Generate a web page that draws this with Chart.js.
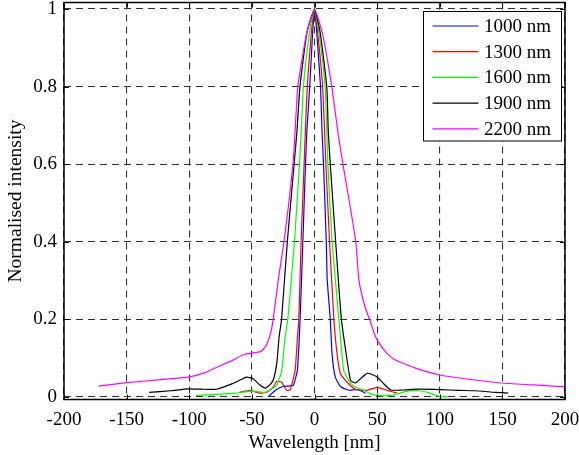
<!DOCTYPE html>
<html>
<head>
<meta charset="utf-8">
<script src="https://cdn.jsdelivr.net/npm/chart.js@4"></script>
<style>
  body { margin: 0; background: #fff; }
</style>
</head>
<body>
<canvas id="myChart" width="579" height="455"></canvas>
<script>

// values (x = wavelength offset in nm, y = normalised intensity)
var wl1000 = [-37, -33, -30, -25, -21, -17, -15, -13.6, -11.5, -9.3, -7.2, -6.1, -3.8, -1.5, 0, 1.8, 4.8, 6.0, 7.2, 9.4, 10.2, 12.6, 14, 16.6, 20.7, 25, 28.7, 32, 35.4, 40.8];
var in1000 = [0.001, 0.012, 0.02, 0.027, 0.028, 0.03, 0.05, 0.07, 0.2, 0.4, 0.6, 0.685, 0.8, 0.94, 1.0, 0.94, 0.8, 0.685, 0.6, 0.4, 0.3, 0.2, 0.111, 0.051, 0.027, 0.02, 0.017, 0.019, 0.018, 0.01];

var wl1300 = [-59.7, -51.6, -43.7, -38.3, -33, -30.2, -26.2, -22.2, -19.5, -15.5, -13.6, -12.5, -10.7, -8.3, -7.3, -5.8, -2.5, 0, 2.5, 6.5, 9.1, 12, 15.5, 18, 20.7, 27.3, 32.7, 42, 50, 58, 66];
var in1300 = [0.012, 0.017, 0.01, 0.012, 0.025, 0.04, 0.038, 0.017, 0.018, 0.068, 0.154, 0.2, 0.4, 0.6, 0.685, 0.8, 0.94, 1.0, 0.94, 0.8, 0.6, 0.4, 0.2, 0.111, 0.06, 0.034, 0.02, 0.017, 0.025, 0.017, 0.01];

var wl1600 = [-94.5, -62.4, -50.3, -39.5, -30.2, -26.2, -23.5, -21.3, -16, -12, -10.6, -8.9, -4, 0, 3.5, 8.5, 10.7, 14, 19.5, 23.3, 28.7, 33, 39.4, 45, 50.2, 60.9, 68, 77, 84, 90.4, 96, 101, 106.5];
var in1600 = [0.004, 0.01, 0.015, 0.012, 0.03, 0.068, 0.154, 0.2, 0.4, 0.6, 0.685, 0.8, 0.94, 1.0, 0.94, 0.8, 0.6, 0.4, 0.2, 0.068, 0.036, 0.025, 0.017, 0.008, 0.004, 0.004, 0.01, 0.017, 0.016, 0.012, 0.005, 0.001, 0.001];

var wl1900 = [-132, -115, -101, -90, -78.5, -65, -54.3, -49, -44, -39.6, -36, -33, -30, -28.3, -26.3, -21.7, -16.3, -14, -11.6, -6, 0, 4.5, 9.8, 11, 12.6, 16.9, 21.5, 28.7, 32.7, 37, 42, 46, 50.2, 55, 60.9, 70, 82.3, 101, 115, 128, 144, 154.7];
var in1900 = [0.012, 0.016, 0.021, 0.02, 0.02, 0.035, 0.051, 0.047, 0.032, 0.023, 0.03, 0.043, 0.09, 0.154, 0.2, 0.4, 0.6, 0.685, 0.8, 0.94, 1.0, 0.94, 0.8, 0.685, 0.6, 0.4, 0.2, 0.043, 0.036, 0.048, 0.061, 0.058, 0.051, 0.035, 0.018, 0.018, 0.02, 0.019, 0.017, 0.016, 0.012, 0.01];

var wl2200 = [-172.6, -150, -125, -100, -88, -77, -65, -56, -43, -39, -35, -33, -29, -24.4, -20.5, -17.2, -15.5, -13.3, -6.3, 0, 6.3, 13.8, 18.8, 22.7, 28, 33, 35.5, 40.5, 44, 47, 50.2, 56.8, 63.5, 80, 101, 125, 149, 175, 200];
var in2200 = [0.028, 0.037, 0.044, 0.052, 0.062, 0.078, 0.095, 0.11, 0.117, 0.13, 0.165, 0.2, 0.3, 0.4, 0.5, 0.6, 0.685, 0.8, 0.937, 1.0, 0.937, 0.8, 0.68, 0.6, 0.5, 0.4, 0.3, 0.23, 0.2, 0.17, 0.146, 0.116, 0.097, 0.075, 0.056, 0.045, 0.036, 0.031, 0.026];

var seriesNames = ['1000 nm', '1300 nm', '1600 nm', '1900 nm', '2200 nm'];
var seriesColors = ['#0000ff', '#ff0000', '#00ff00', '#000000', '#ff00ff'];
var seriesX = [wl1000, wl1300, wl1600, wl1900, wl2200];
var seriesY = [in1000, in1300, in1600, in1900, in2200];

var xTicks = [-200, -150, -100, -50, 0, 50, 100, 150, 200];
var yTicks = [0, 0.2, 0.4, 0.6, 0.8, 1];

var FONT = 'Liberation Serif, "Times New Roman", serif';

function toPoints(xs, ys) {
  var pts = [];
  for (var i = 0; i < xs.length; i++) pts.push({ x: xs[i], y: ys[i] });
  return pts;
}

var datasets = [];
for (var k = 0; k < seriesNames.length; k++) {
  datasets.push({
    label: seriesNames[k],
    data: toPoints(seriesX[k], seriesY[k]),
    borderColor: seriesColors[k],
    backgroundColor: seriesColors[k],
    borderWidth: 1.2,
    pointRadius: 0,
    tension: 0.15,
    fill: false,
    order: seriesNames.length - k   // last series on top, like the original
  });
}

// frame, inner tick marks and the boxed legend
var framePlugin = {
  id: 'frame',
  afterDraw: function (chart) {
    var ctx = chart.ctx;
    var a = chart.chartArea;
    var xs = chart.scales.x, ys = chart.scales.y;
    ctx.save();
    ctx.strokeStyle = '#000';
    ctx.lineWidth = 1.5;
    ctx.setLineDash([]);
    ctx.strokeRect(a.left, a.top, a.right - a.left, a.bottom - a.top);

    ctx.lineWidth = 1;
    ctx.beginPath();
    xTicks.forEach(function (v) {
      var px = Math.round(xs.getPixelForValue(v)) + 0.5;
      ctx.moveTo(px, a.bottom); ctx.lineTo(px, a.bottom - 5);
      ctx.moveTo(px, a.top); ctx.lineTo(px, a.top + 5);
    });
    yTicks.forEach(function (v) {
      var py = Math.round(ys.getPixelForValue(v)) + 0.5;
      ctx.moveTo(a.left, py); ctx.lineTo(a.left + 5, py);
      ctx.moveTo(a.right, py); ctx.lineTo(a.right - 5, py);
    });
    ctx.stroke();

    // legend box
    var bx = 423.5, by = 11.5, bw = 138, bh = 129.5;
    ctx.fillStyle = '#fff';
    ctx.fillRect(bx, by, bw, bh);
    ctx.strokeStyle = '#000';
    ctx.lineWidth = 1;
    ctx.strokeRect(bx, by, bw, bh);
    ctx.font = '19px ' + FONT;
    ctx.textBaseline = 'middle';
    ctx.textAlign = 'left';
    for (var i = 0; i < seriesNames.length; i++) {
      var ly = 26 + i * 25.7;
      ctx.strokeStyle = seriesColors[i];
      ctx.lineWidth = 1.2;
      ctx.beginPath();
      ctx.moveTo(432.5, ly); ctx.lineTo(478.5, ly);
      ctx.stroke();
      ctx.fillStyle = '#000';
      ctx.fillText(seriesNames[i], 484, ly + 1);
    }
    ctx.restore();
  }
};

const canvas = document.getElementById('myChart');
const ctx = canvas.getContext('2d');

const chart = new Chart(ctx, {
  type: 'line',
  data: { datasets: datasets },
  plugins: [framePlugin],
  options: {
    responsive: false,
    animation: false,
    layout: { padding: { top: 2.5, right: 14, left: 0, bottom: 0 } },
    plugins: { legend: { display: false }, tooltip: { enabled: false } },
    scales: {
      x: {
        type: 'linear',
        min: -200,
        max: 200,
        afterBuildTicks: function (s) { s.ticks = xTicks.map(function (v) { return { value: v }; }); },
        afterFit: function (s) { s.height = 55.5; s.paddingLeft = 0; s.paddingRight = 0; },
        grid: { color: '#333', lineWidth: 1.1, drawTicks: false, borderDash: [7, 5] },
        border: { display: false, dash: [7, 5] },
        ticks: {
          color: '#000',
          padding: 9,
          maxRotation: 0,
          font: { family: FONT, size: 19 },
          callback: function (v) { return String(v); }
        },
        title: {
          display: true,
          text: 'Wavelength [nm]',
          color: '#000',
          font: { family: FONT, size: 19 },
          padding: { top: 0, bottom: 1 }
        }
      },
      y: {
        type: 'linear',
        min: -0.0065,
        max: 1.0167,
        afterBuildTicks: function (s) { s.ticks = yTicks.map(function (v) { return { value: v }; }); },
        afterFit: function (s) { s.width = 64; s.paddingTop = 0; s.paddingBottom = 0; },
        grid: { color: '#333', lineWidth: 1.1, drawTicks: false, borderDash: [7, 5] },
        border: { display: false, dash: [7, 5] },
        ticks: {
          color: '#000',
          padding: 7,
          font: { family: FONT, size: 19 },
          callback: function (v) { return String(v); }
        },
        title: {
          display: true,
          text: 'Normalised intensity',
          color: '#000',
          font: { family: FONT, size: 19.5 },
          padding: { top: 4, bottom: 0 }
        }
      }
    }
  }
});
</script>
</body>
</html>
